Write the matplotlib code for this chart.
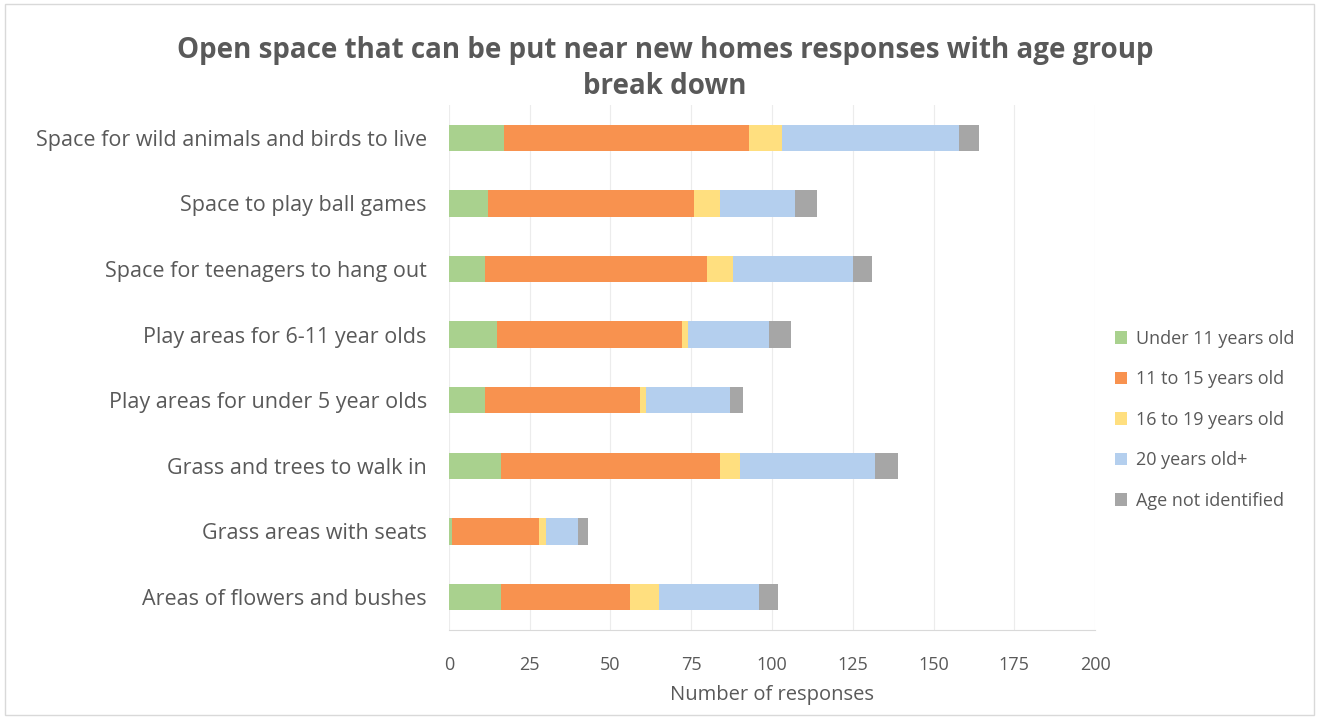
import matplotlib.pyplot as plt
from matplotlib.patches import Rectangle
import numpy as np

plt.rcParams['font.family'] = ['Open Sans', 'DejaVu Sans']

categories = ['Space for wild animals and birds to live',
              'Space to play ball games',
              'Space for teenagers to hang out',
              'Play areas for 6-11 year olds',
              'Play areas for under 5 year olds',
              'Grass and trees to walk in',
              'Grass areas with seats',
              'Areas of flowers and bushes']
groups = ['Under 11 years old', '11 to 15 years old', '16 to 19 years old',
          '20 years old+', 'Age not identified']

under_11 = [17, 12, 11, 15, 11, 16, 1, 16]
age_11_15 = [76, 64, 69, 57, 48, 68, 27, 40]
age_16_19 = [10, 8, 8, 2, 2, 6, 2, 9]
age_20_plus = [55, 23, 37, 25, 26, 42, 10, 31]
not_identified = [6, 7, 6, 7, 4, 7, 3, 6]

colors = ['#a9d18e', '#f8924f', '#ffdf7f', '#b4cfee', '#a6a6a6']
text_col = '#595959'

fig = plt.figure(figsize=(13.19, 7.19), dpi=100)
ax = fig.add_axes([0.3404, 0.124, 0.4898, 0.730])

y = np.arange(len(categories))
left = np.zeros(len(categories))
for name, vals, c in zip(groups, [under_11, age_11_15, age_16_19, age_20_plus, not_identified], colors):
    ax.barh(y, vals, left=left, height=0.4, color=c, label=name)
    left += np.array(vals)

ax.set_xlim(0, 200)
ax.set_ylim(len(categories) - 0.5, -0.5)
ax.set_xticks(range(0, 201, 25))
ax.set_yticks(y)
ax.set_yticklabels(categories, fontsize=15.5, color=text_col)
ax.tick_params(axis='x', labelsize=13, colors=text_col, length=0, pad=19)
ax.tick_params(axis='y', length=0, pad=16)
ax.grid(axis='x', color='#ececec', linewidth=0.8)
ax.set_axisbelow(True)
for s in ['top', 'right', 'left']:
    ax.spines[s].set_visible(False)
ax.spines['bottom'].set_color('#d9d9d9')
ax.set_xlabel('Number of responses', fontsize=14.5, color=text_col, labelpad=8)

fig.text(0.504, 0.905, 'Open space that can be put near new homes responses with age group\nbreak down',
         ha='center', va='center', fontsize=20, fontweight='bold', color=text_col, linespacing=1.3)

ax.legend(loc='center left', bbox_to_anchor=(1.005, 0.4), frameon=False, fontsize=13,
          labelcolor=text_col, handlelength=0.7, handleheight=0.7, handletextpad=0.5,
          labelspacing=1.25)

fig.patches.append(Rectangle((0.004, 0.006), 0.992, 0.988, transform=fig.transFigure,
                             fill=False, edgecolor='#d9d9d9', linewidth=1))

fig.savefig('out.png', dpi=100)
